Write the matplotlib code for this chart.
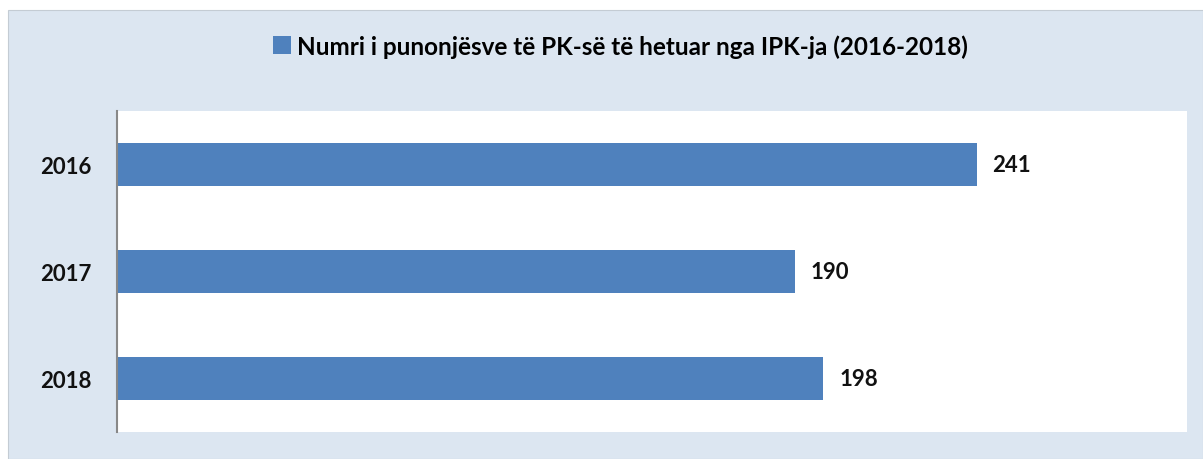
import matplotlib
matplotlib.use("Agg")
from matplotlib import pyplot as plt
from matplotlib.patches import Rectangle

# DATA
years = ['2016', '2017', '2018']
counts = [241, 190, 198]
series_name = 'Numri i punonjësve të PK-së të hetuar nga IPK-ja (2016-2018)'

BAR_COLOR = '#4f81bd'
BG_COLOR = '#dce6f1'

plt.rcParams['font.family'] = ['Lato', 'DejaVu Sans']
plt.rcParams['font.weight'] = 'bold'

fig = plt.figure(figsize=(12.03, 4.6), dpi=100)
fig.patch.set_facecolor('white')

# light blue chart area
bg = Rectangle((8 / 1203, 0), 1 - 8 / 1203, 1 - 11 / 460,
               transform=fig.transFigure, facecolor=BG_COLOR,
               edgecolor='#c4ccd4', linewidth=0.8, zorder=-10)
fig.patches.append(bg)

ax = fig.add_axes([117 / 1203, 27 / 460, 1070 / 1203, 321 / 460])
ax.set_zorder(1)
ax.set_facecolor('white')

pos = list(range(len(years)))
bars = ax.barh(pos, counts, height=0.4, color=BAR_COLOR, label=series_name)
ax.set_ylim(len(years) - 0.5, -0.5)
ax.set_xlim(0, 300)

for b, v in zip(bars, counts):
    ax.text(b.get_width() + 4.5, b.get_y() + b.get_height() / 2, str(v),
            va='center', ha='left', fontsize=16, fontweight='bold', color='#111111')

ax.set_yticks(pos)
ax.set_yticklabels(years, fontsize=16, fontweight='bold', color='#111111')
ax.tick_params(axis='y', length=0, pad=18)
ax.set_xticks([])
for s in ['top', 'right', 'bottom']:
    ax.spines[s].set_visible(False)
ax.spines['left'].set_color('#888888')
ax.spines['left'].set_linewidth(1.5)

leg = fig.legend(loc='center', bbox_to_anchor=(0.516, 0.898), frameon=False,
                 handlelength=0.75, handleheight=0.75, handletextpad=0.25,
                 prop={'weight': 'bold', 'size': 17.5})

fig.savefig('out.png', dpi=100, facecolor=fig.get_facecolor())
